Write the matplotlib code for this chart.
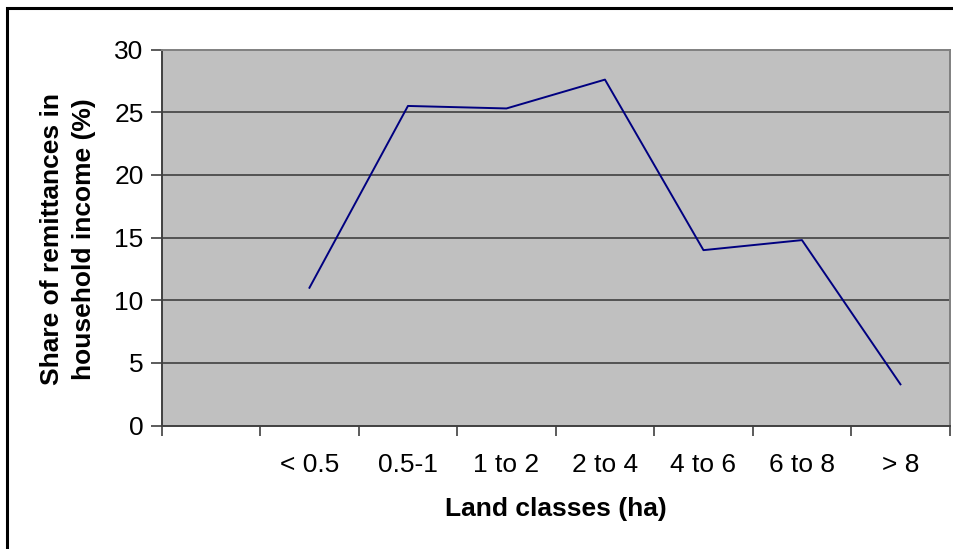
import matplotlib
matplotlib.use("Agg")
import matplotlib.pyplot as plt
from matplotlib.patches import Rectangle
import numpy as np

plt.rcParams['font.family'] = ['Liberation Sans', 'DejaVu Sans']

# land classes; the first slot on the category axis is left blank
categories = ["", "< 0.5", "0.5-1", "1 to 2", "2 to 4", "4 to 6", "6 to 8", "> 8"]
share = [11.0, 25.5, 25.3, 27.6, 14.0, 14.8, 3.3]

fs = 19

fig = plt.figure(figsize=(9.54, 5.49), dpi=100)
ax = fig.add_axes([0.1695, 0.2246, 0.8260, 0.6852])

ax.set_facecolor("#c0c0c0")
x = np.arange(1, len(categories))
ax.plot(x, share, color="#000080", lw=1.4, zorder=3)

ax.set_xlim(-0.5, len(categories) - 0.5)
ax.set_ylim(0, 30)

# category labels sit between the tick marks
ax.set_xticks(np.arange(len(categories) + 1) - 0.5)
ax.set_xticklabels([])
ax.set_xticks(np.arange(len(categories)), minor=True)
ax.set_xticklabels(categories, minor=True, fontsize=fs)
ax.tick_params(axis="x", which="minor", length=0, pad=20)
ax.tick_params(axis="x", which="major", length=7, width=1.2, color="#404040", direction="out")

ax.set_yticks(range(0, 31, 5))
ax.tick_params(axis="y", length=8, width=1.2, color="#404040", labelsize=fs, pad=5)

for v in range(5, 30, 5):
    ax.axhline(v, color="#404040", lw=1.2, zorder=1)

ax.spines["left"].set_color("#404040")
ax.spines["bottom"].set_color("#404040")
ax.spines["left"].set_linewidth(1.4)
ax.spines["bottom"].set_linewidth(1.4)
ax.spines["top"].set_color("#808080")
ax.spines["right"].set_color("#808080")
ax.spines["top"].set_linewidth(1.4)
ax.spines["right"].set_linewidth(1.4)

fig.text(0.5825, 1 - 509 / 549, "Land classes (ha)", ha="center", va="center",
         fontsize=fs, fontweight="bold")
fig.text(0.0715, 0.565, "Share of remittances in\nhousehold income (%)", rotation=90,
         ha="center", va="center", fontsize=fs, fontweight="bold", linespacing=1.4)

# outer chart frame, open past the right and bottom edges
fig.patches.append(Rectangle((7.5 / 954, -0.1), 1.2, 1.0 - 7.5 / 549 + 0.1,
                             transform=fig.transFigure, fill=False,
                             edgecolor="black", lw=2.2))

fig.savefig("out.png", dpi=100)
